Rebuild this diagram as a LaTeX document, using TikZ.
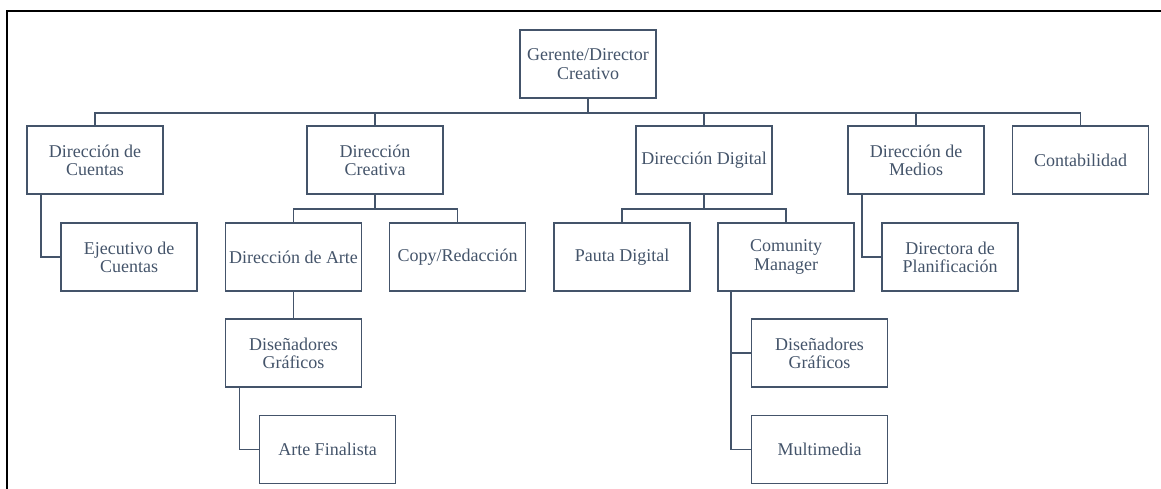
\documentclass[tikz,border=0pt]{standalone}
\usepackage{fontspec}
\setmainfont{Liberation Serif}
\definecolor{slate}{HTML}{44546A}
\begin{document}
\begin{tikzpicture}[x=1pt,y=-1pt,
  box/.style={draw=slate, line width=1.6pt, rectangle, minimum width=136pt, minimum height=68pt,
    inner sep=1pt, align=center, text=slate, font=\fontsize{18}{18.3}\selectfont},
  link/.style={draw=slate, line width=1.6pt},
  stem/.style={draw=slate, line width=2.2pt}]
\useasboundingbox (0,0) rectangle (1161,488);
\draw[black, line width=2.3pt] (7,495) -- (7,11) -- (1165,11);

\node[box] (G) at (588,64) {Gerente/Director\\Creativo};
\node[box] (C1) at (95,160) {Dirección de\\Cuentas};
\node[box] (C2) at (375,160) {Dirección\\Creativa};
\node[box] (C3) at (704,160) {Dirección Digital};
\node[box] (C4) at (916,160) {Dirección de\\Medios};
\node[box] (C5) at (1080.5,160) {Contabilidad};

\node[box] (EJ) at (129,257) {Ejecutivo de\\Cuentas};
\node[box] (AR) at (293.5,257) {Dirección de Arte};
\node[box] (CP) at (457.5,257) {Copy/Redacción};
\node[box] (PD) at (622,257) {Pauta Digital};
\node[box] (CM) at (786,257) {Comunity\\Manager};
\node[box] (PL) at (950,257) {Directora de\\Planificación};

\node[box] (DG1) at (293.5,353) {Diseñadores\\Gráficos};
\node[box] (AF) at (327.5,449.5) {Arte Finalista};
\node[box] (DG2) at (819.5,353) {Diseñadores\\Gráficos};
\node[box] (MM) at (819.5,449.5) {Multimedia};

\draw[stem] (G.south) -- ++(0,14);
\foreach \n in {C1,C2,C3,C4,C5} \draw[link] (G.south) ++(0,14) -| (\n.north);

\foreach \n in {AR,CP} \draw[link] (C2.south) -- ++(0,14) -| (\n.north);
\foreach \n in {PD,CM} \draw[link] (C3.south) -- ++(0,14) -| (\n.north);

\draw[link] ([xshift=-54pt]C1.south) |- (EJ.west);
\draw[link] ([xshift=-54pt]C4.south) |- (PL.west);
\draw[link] (AR.south) -- (DG1.north);
\draw[link] ([xshift=-54pt]DG1.south) |- (AF.west);
\draw[link] ([xshift=-55pt]CM.south) |- (DG2.west);
\draw[link] ([xshift=-55pt]CM.south) |- (MM.west);
\end{tikzpicture}
\end{document}
